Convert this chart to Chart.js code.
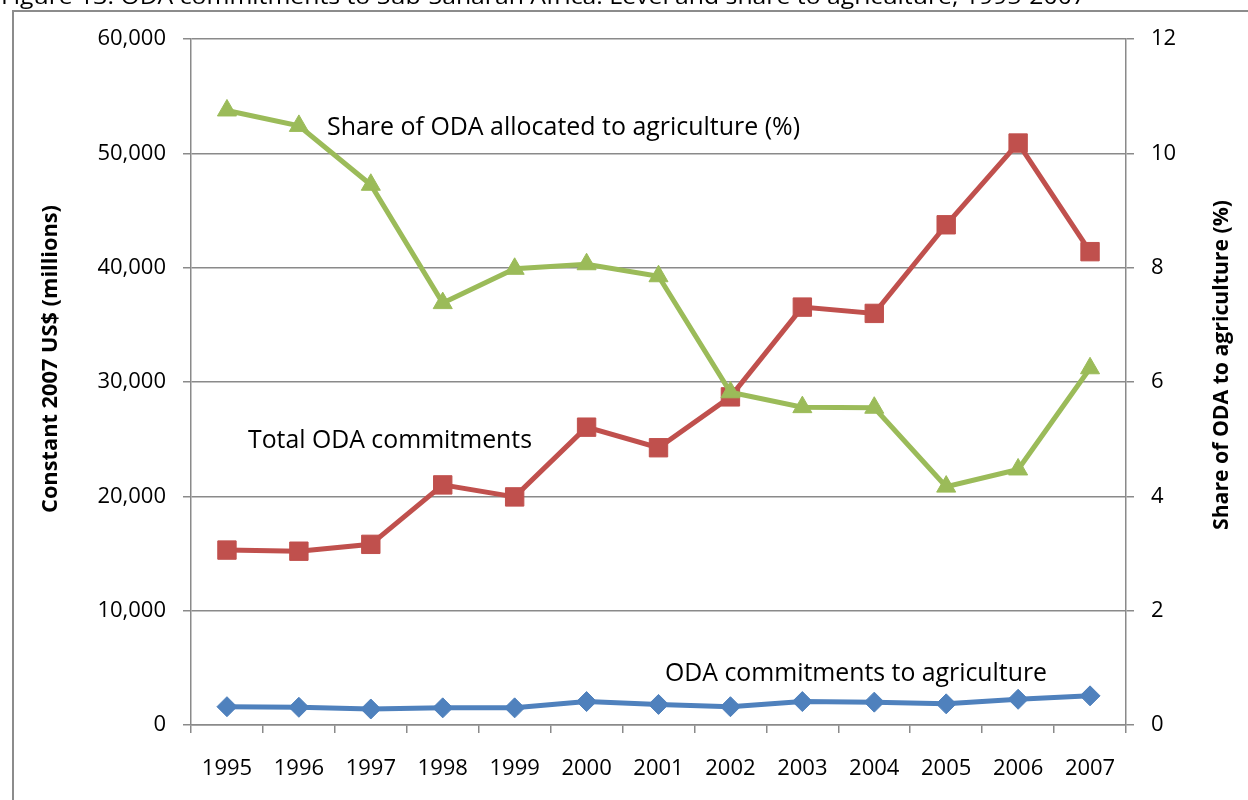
<!DOCTYPE html>
<html>
<head>
<meta charset="utf-8">
<title>ODA commitments to Sub-Saharan Africa</title>
<script src="https://cdn.jsdelivr.net/npm/chart.js@4"></script>
<style>
  html, body { margin: 0; padding: 0; background: #fff; }
  canvas { display: block; }
</style>
</head>
<body>
<canvas id="odaChart" width="1248" height="800"></canvas>
<script>
const years = ['1995', '1996', '1997', '1998', '1999', '2000', '2001', '2002', '2003', '2004', '2005', '2006', '2007'];

// constant 2007 US$ millions
const totalOda = [15300, 15200, 15800, 21000, 19950, 26050, 24250, 28700, 36550, 36000, 43750, 50900, 41400];
const agriOda = [1600, 1550, 1400, 1500, 1500, 2050, 1800, 1600, 2050, 2000, 1850, 2250, 2550];

// percent of ODA going to agriculture
const agriShare = [10.75, 10.48, 9.45, 7.38, 7.98, 8.06, 7.85, 5.82, 5.56, 5.55, 4.17, 4.47, 6.24];

const leftTicks = [0, 10000, 20000, 30000, 40000, 50000, 60000];
const rightTicks = [0, 2, 4, 6, 8, 10, 12];

const gridColor = '#8a8a8a';
const textColor = '#000';
const font = "'Open Sans', sans-serif";

// draw text squeezed/stretched to a given width
function fitText(ctx, text, x, y, width, rotate) {
  ctx.save();
  ctx.translate(x, y);
  if (rotate) ctx.rotate(-Math.PI / 2);
  const w = ctx.measureText(text).width;
  ctx.scale(width / w, 1);
  ctx.fillText(text, 0, 0);
  ctx.restore();
}

const decorations = {
  id: 'decorations',
  beforeDraw(chart) {
    const ctx = chart.ctx;
    ctx.save();
    ctx.fillStyle = '#fff';
    ctx.fillRect(0, 0, chart.width, chart.height);
    // frame around the figure
    ctx.strokeStyle = '#8c8c8c';
    ctx.lineWidth = 2;
    ctx.beginPath();
    ctx.moveTo(13, chart.height + 5);
    ctx.lineTo(13, 11);
    ctx.lineTo(chart.width + 5, 11);
    ctx.stroke();
    ctx.restore();
  },
  afterDraw(chart) {
    const ctx = chart.ctx;
    ctx.save();
    ctx.fillStyle = textColor;
    ctx.textBaseline = 'alphabetic';
    ctx.textAlign = 'left';

    ctx.font = '22px ' + font;
    fitText(ctx, 'Figure 13. ODA commitments to Sub-Saharan Africa: Level and share to agriculture, 1995-2007', 1, 4, 1085);

    ctx.font = '25px ' + font;
    fitText(ctx, 'Share of ODA allocated to agriculture (%)', 327, 135, 473);
    fitText(ctx, 'Total ODA commitments', 248, 448, 284);
    fitText(ctx, 'ODA commitments to agriculture', 665, 681, 382);

    ctx.font = 'bold 21px ' + font;
    fitText(ctx, 'Constant 2007 US$ (millions)', 57, 513, 308, true);
    fitText(ctx, 'Share of ODA to agriculture (%)', 1228, 530, 330, true);
    ctx.restore();
  }
};

const ctx = document.getElementById('odaChart').getContext('2d');
new Chart(ctx, {
  type: 'line',
  data: {
    labels: years,
    datasets: [
      {
        label: 'Share of ODA allocated to agriculture (%)',
        data: agriShare,
        yAxisID: 'yShare',
        borderColor: '#9bbb59',
        backgroundColor: '#9bbb59',
        borderWidth: 5,
        pointStyle: 'triangle',
        pointRadius: 11,
        pointBorderWidth: 1,
        tension: 0
      },
      {
        label: 'Total ODA commitments',
        data: totalOda,
        yAxisID: 'y',
        borderColor: '#c0504d',
        backgroundColor: '#c0504d',
        borderWidth: 5,
        pointStyle: 'rect',
        pointRadius: 13,
        pointBorderWidth: 1,
        tension: 0
      },
      {
        label: 'ODA commitments to agriculture',
        data: agriOda,
        yAxisID: 'y',
        borderColor: '#4f81bd',
        backgroundColor: '#4f81bd',
        borderWidth: 5,
        pointStyle: 'rectRot',
        pointRadius: 10,
        pointBorderWidth: 1,
        tension: 0
      }
    ]
  },
  options: {
    responsive: false,
    animation: false,
    events: [],
    layout: { padding: { top: 39, left: 0, right: 0, bottom: 0 } },
    plugins: {
      legend: { display: false },
      tooltip: { enabled: false }
    },
    scales: {
      x: {
        offset: true,
        afterFit(scale) { scale.height = 75; },
        grid: {
          display: true,
          drawOnChartArea: false,
          drawTicks: true,
          tickLength: 8,
          offset: true,
          color: gridColor,
          lineWidth: 1.5
        },
        border: { display: true, color: gridColor, width: 1.5 },
        ticks: {
          color: textColor,
          padding: 23,
          maxRotation: 0,
          font: { family: font, size: 22 }
        }
      },
      y: {
        position: 'left',
        min: leftTicks[0],
        max: leftTicks[leftTicks.length - 1],
        afterFit(scale) { scale.width = 191; },
        afterBuildTicks(scale) { scale.ticks = leftTicks.map(v => ({ value: v })); },
        grid: {
          color: gridColor,
          lineWidth: 1.5,
          drawTicks: true,
          tickLength: 8
        },
        border: { display: true, color: gridColor, width: 1.5 },
        ticks: {
          color: textColor,
          padding: 17,
          font: { family: font, size: 22 },
          callback: v => v.toLocaleString('en-US')
        }
      },
      yShare: {
        position: 'right',
        min: rightTicks[0],
        max: rightTicks[rightTicks.length - 1],
        afterFit(scale) { scale.width = 122; },
        afterBuildTicks(scale) { scale.ticks = rightTicks.map(v => ({ value: v })); },
        grid: {
          drawOnChartArea: false,
          drawTicks: true,
          tickLength: 8,
          color: gridColor,
          lineWidth: 1.5
        },
        border: { display: true, color: gridColor, width: 1.5 },
        ticks: {
          color: textColor,
          padding: 17,
          font: { family: font, size: 22 }
        }
      }
    }
  },
  plugins: [decorations]
});
</script>
</body>
</html>
